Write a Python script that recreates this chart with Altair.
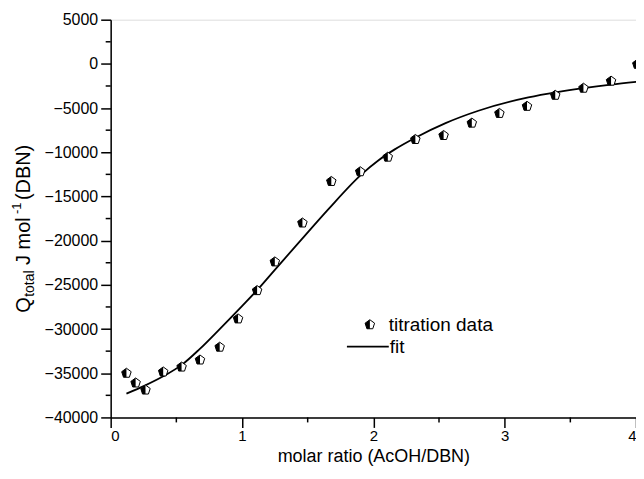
import altair as alt
import pandas as pd

# titration data (molar ratio, Q_total)
mr = [0.12, 0.19, 0.265, 0.40, 0.54, 0.68, 0.83, 0.97, 1.115, 1.25, 1.46, 1.68, 1.90,
      2.11, 2.32, 2.535, 2.75, 2.96, 3.17, 3.385, 3.60, 3.81, 4.01]
q = [-35000, -36100, -36900, -34850, -34300, -33500, -32050, -28850, -25650, -22400,
     -18000, -13300, -12200, -10550, -8550, -8100, -6700, -5600, -4800, -3550,
     -2750, -1950, -50]

# fit curve
fx = [0.12, 0.26, 0.40, 0.546, 0.675, 0.83, 1.0, 1.115, 1.25, 1.457, 1.66, 1.91,
      2.04, 2.16, 2.32, 2.55, 2.80, 3.18, 3.40, 3.60, 3.81, 4.03]
fy = [-37300, -36400, -35350, -34000, -32300, -30000, -27400, -25600, -23300, -19800,
      -16400, -12500, -10900, -9700, -8350, -6700, -5300, -3800, -3200, -2750, -2350, -2000]

x_ticks = [0, 1, 2, 3, 4]
x_minor = [0.5, 1.5, 2.5, 3.5]
y_ticks = [-40000, -35000, -30000, -25000, -20000, -15000, -10000, -5000, 0, 5000]
y_minor = [-37500, -32500, -27500, -22500, -17500, -12500, -7500, -2500, 2500]

FONT = "Liberation Sans"
W, H = 527, 399

pent = "M0,-1L0.951,-0.309L0.588,0.809L-0.588,0.809L-0.951,-0.309Z"
half = "M0,-1L0,0.809L-0.588,0.809L-0.951,-0.309Z"
MSIZE = 100

xs = alt.Scale(domain=[0, 4], nice=False, zero=False)
ys = alt.Scale(domain=[-40000, 5000], nice=False, zero=False)

xaxis = alt.Axis(values=x_ticks, format="d", title="molar ratio (AcOH/DBN)", grid=False,
                 labelFont=FONT, labelFontSize=15, labelColor="black", labelPadding=1,
                 titleFont=FONT, titleFontSize=18, titleFontWeight="normal", titleColor="black",
                 titleBaseline="alphabetic", titleY=44,
                 tickSize=10, tickWidth=1.5, tickColor="black",
                 domainColor="black", domainWidth=1.5)
yaxis = alt.Axis(values=y_ticks, format="d", title=None, grid=False,
                 labelFont=FONT, labelFontSize=16, labelColor="black", labelPadding=3,
                 tickSize=10, tickWidth=1.5, tickColor="black",
                 domainColor="black", domainWidth=1.5)

df = pd.DataFrame({"mr": mr, "q": q})
fit = pd.DataFrame({"x": fx, "y": fy})

line = alt.Chart(fit).mark_line(color="black", strokeWidth=1.8, interpolate="monotone").encode(
    x=alt.X("x:Q", scale=xs, axis=xaxis),
    y=alt.Y("y:Q", scale=ys, axis=yaxis),
)
pts_bg = alt.Chart(df).mark_point(shape=pent, size=MSIZE, filled=True, fill="white",
                                  stroke="black", strokeWidth=1, opacity=1).encode(
    x=alt.X("mr:Q", scale=xs), y=alt.Y("q:Q", scale=ys))
pts_half = alt.Chart(df).mark_point(shape=half, size=MSIZE, filled=True, fill="black",
                                    strokeWidth=0, opacity=1).encode(
    x=alt.X("mr:Q", scale=xs), y=alt.Y("q:Q", scale=ys))

xm = alt.Chart(pd.DataFrame({"v": x_minor})).mark_rule(color="black", strokeWidth=1.5).encode(
    x=alt.X("v:Q", scale=xs), y=alt.value(H), y2=alt.value(H + 5))
ym = alt.Chart(pd.DataFrame({"v": y_minor})).mark_rule(color="black", strokeWidth=1.5).encode(
    y=alt.Y("v:Q", scale=ys), x=alt.value(-5), x2=alt.value(0))

one = pd.DataFrame({"a": [0]})

def txt(t, x, y, size, angle=0, align="left", baseline="alphabetic"):
    return alt.Chart(one).mark_text(font=FONT, fontSize=size, color="black", angle=angle,
                                    align=align, baseline=baseline).encode(
        x=alt.value(x), y=alt.value(y), text=alt.value(t))

# y-axis title with subscript / superscript
ytitle = [
    txt("Q", -81, 294, 20, angle=270),
    txt("total", -77, 278, 14, angle=270),
    txt("J mol", -81, 246, 20, angle=270),
    txt("-1", -90, 195, 13, angle=270),
    txt("(DBN)", -81, 181, 20, angle=270),
]

# legend
leg_bg = alt.Chart(one).mark_point(shape=pent, size=MSIZE, filled=True, fill="white",
                                   stroke="black", strokeWidth=1, opacity=1).encode(
    x=alt.value(260), y=alt.value(306))
leg_half = alt.Chart(one).mark_point(shape=half, size=MSIZE, filled=True, fill="black",
                                     strokeWidth=0, opacity=1).encode(
    x=alt.value(260), y=alt.value(306))
leg_line = alt.Chart(one).mark_rule(color="black", strokeWidth=1.8).encode(
    x=alt.value(237), x2=alt.value(279), y=alt.value(328))
leg_t1 = txt("titration data", 279, 306, 19, baseline="middle")
leg_t2 = txt("fit", 280, 328, 19, baseline="middle")

chart = alt.layer(
    line, pts_bg, pts_half, xm, ym, *ytitle, leg_bg, leg_half, leg_line, leg_t1, leg_t2
).properties(
    width=W, height=H,
    padding={"left": 103, "top": 11, "right": 0, "bottom": 48},
    autosize=alt.AutoSizeParams(type="none"),
).configure_view(stroke=None).configure(background="white")

chart.save("out.html", embed_options={"renderer": "svg", "actions": False})
